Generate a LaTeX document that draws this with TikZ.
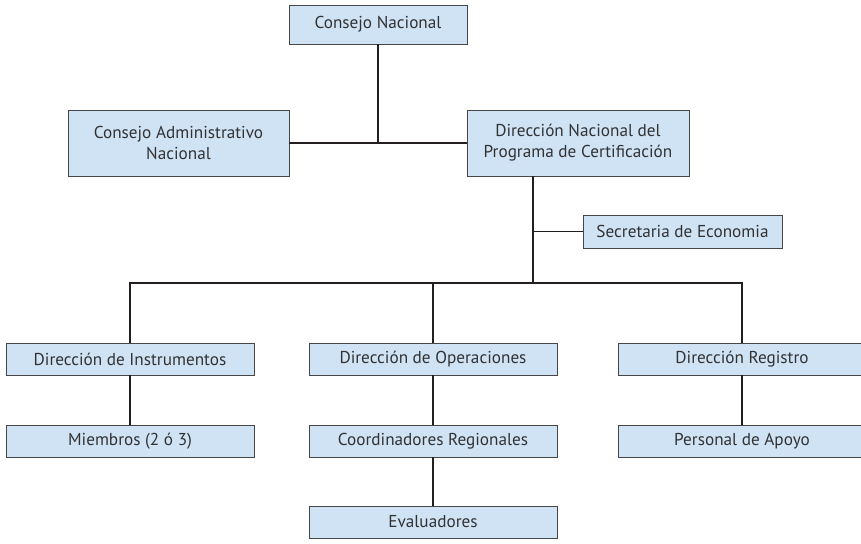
\documentclass[tikz,border=0pt]{standalone}
\usepackage{fontspec}
\setmainfont{PT Sans}
\usetikzlibrary{positioning}
\definecolor{boxfill}{RGB}{208,227,244}
\definecolor{boxline}{RGB}{70,70,72}
\definecolor{linkline}{RGB}{35,31,32}
\definecolor{boxtext}{RGB}{50,50,52}
\tikzset{
  unit/.style={rectangle, draw=boxline, fill=boxfill, line width=0.9pt,
               align=center, inner sep=0pt, outer sep=0pt, text=boxtext,
               font=\fontsize{17.2}{21}\selectfont},
  wide/.style={unit, minimum width=248pt, minimum height=32pt},
  link/.style={draw=linkline, line width=1.6pt},
}

\begin{document}
\begin{tikzpicture}[x=1pt, y=-1pt, node distance=50pt and 55pt]

  \useasboundingbox (0,0) rectangle (861,543);

  % =====================================================
  % TOP LEVEL
  % =====================================================

  \node[unit, minimum width=178pt, minimum height=39pt]
    (cn) at (378,24.5) {Consejo Nacional};

  \node[unit, minimum width=221pt, minimum height=66pt]
    (cad) at (178.5,143) {Consejo Administrativo\\Nacional};

  \node[unit, minimum width=222pt, minimum height=66pt, right=178pt of cad]
    (dnpc) {Dirección Nacional del\\Programa de Certificación};

  \node[unit, minimum width=199pt, minimum height=33pt]
    (sec) at (682.5,231.5) {Secretaria de Economia};

  \coordinate (bus) at (533,283);


  % =====================================================
  % DIRECCIONES
  % =====================================================

  \node[wide] (di) at (130,359) {Dirección de Instrumentos};

  \node[wide, right=of di]
    (dop) {Dirección de Operaciones};

  \node[wide, right=61pt of dop]
    (dr) {Dirección Registro};

  \node[wide, below=of di]
    (mi) {Miembros (2 ó 3)};

  \node[wide, below=of dop]
    (cr) {Coordinadores Regionales};

  \node[wide, below=49pt of cr]
    (ev) {Evaluadores};

  \node[wide, below=of dr]
    (pa) {Personal de Apoyo};


  % =====================================================
  % CONNECTORS
  % =====================================================

  \draw[link]
    (cn.south) -- (cn.south |- cad.east);

  \draw[link]
    (cad.east) -- (dnpc.west);

  \draw[link]
    (dnpc.south -| bus) -- (bus);

  \draw[link]
    (sec.west) -- (sec.west -| bus);

  \draw[link]
    (di.north) -- (di.north |- bus)
    -- (dr.north |- bus) -- (dr.north);

  \draw[link]
    (dop.north) -- (dop.north |- bus);

  \draw[link]
    (di) -- (mi);

  \draw[link]
    (dop) -- (cr);

  \draw[link]
    (cr) -- (ev);

  \draw[link]
    (dr) -- (pa);

\end{tikzpicture}
\end{document}
